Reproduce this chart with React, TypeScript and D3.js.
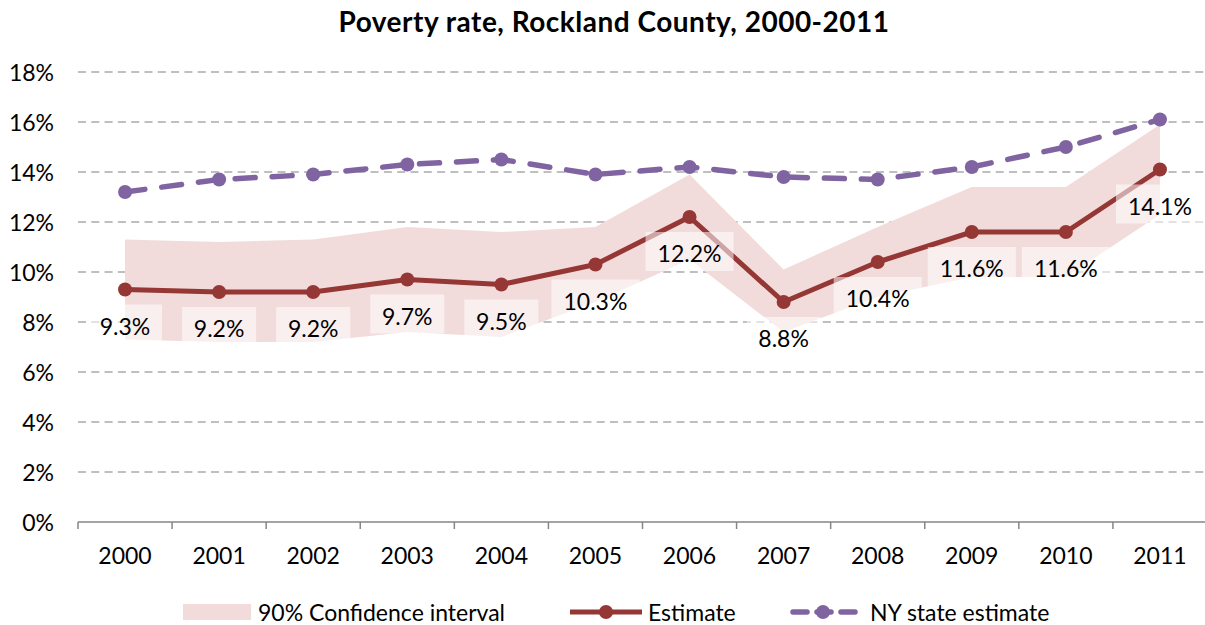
import React from "react";
import * as d3 from "d3";

const years = ["2000","2001","2002","2003","2004","2005","2006","2007","2008","2009","2010","2011"];
const estimate = [9.3, 9.2, 9.2, 9.7, 9.5, 10.3, 12.2, 8.8, 10.4, 11.6, 11.6, 14.1];
const nyState = [13.2, 13.7, 13.9, 14.3, 14.5, 13.9, 14.2, 13.8, 13.7, 14.2, 15.0, 16.1];
const ciUpper = [11.3, 11.2, 11.3, 11.8, 11.6, 11.8, 13.9, 10.1, 11.8, 13.4, 13.4, 15.9];
const ciLower = [7.3, 7.2, 7.2, 7.6, 7.4, 8.8, 10.5, 7.6, 9.0, 9.8, 9.8, 12.3];
const yTicks = [0, 2, 4, 6, 8, 10, 12, 14, 16, 18];

const W = 1205, H = 625;
const FONT = "Lato, 'Open Sans', sans-serif";
const C_EST = "#953735";
const C_NY = "#8064A2";
const C_BAND = "#F2DCDB";
const C_GRID = "#BFBFBF";
const C_AXIS = "#868686";
const FS = 23;

export default function App() {
  const x = d3.scaleBand<string>().domain(years).range([78, 1207]).padding(0);
  const bw = x.bandwidth();
  const cx = (i: number) => (x(years[i]) as number) + bw / 2;
  const y = d3.scaleLinear().domain([0, 18]).range([522, 72]);

  const area = d3.area<number>()
    .x((_, i) => cx(i))
    .y0((_, i) => y(ciLower[i]))
    .y1((_, i) => y(ciUpper[i]));
  const lineEst = d3.line<number>().x((_, i) => cx(i)).y((d) => y(d));
  const lineNy = d3.line<number>().x((_, i) => cx(i)).y((d) => y(d));

  const fmt = (v: number) => v.toFixed(1) + "%";

  return (
    <svg width={W} height={H} style={{ position: "absolute", left: 0, top: 0, background: "#fff" }} fontFamily={FONT}>
      <text x={614} y={32} textAnchor="middle" fontSize={28} fontWeight="bold" letterSpacing={0.5} fill="#000">
        Poverty rate, Rockland County, 2000-2011
      </text>

      {/* gridlines */}
      {yTicks.filter((t) => t > 0).map((t) => (
        <line key={"g" + t} x1={78} x2={1205} y1={y(t)} y2={y(t)} stroke={C_GRID} strokeWidth={1.8} strokeDasharray="8,5.3" />
      ))}

      {/* y labels */}
      {yTicks.map((t) => (
        <text key={"yl" + t} x={54} y={y(t)} textAnchor="end" dominantBaseline="central" fontSize={FS} fill="#000">
          {t + "%"}
        </text>
      ))}

      {/* CI band */}
      <path d={area(estimate) as string} fill={C_BAND} stroke="none" />

      {/* estimate line */}
      <path d={lineEst(estimate) as string} fill="none" stroke={C_EST} strokeWidth={5} strokeLinejoin="round" />
      {estimate.map((v, i) => (
        <circle key={"e" + i} cx={cx(i)} cy={y(v)} r={7} fill={C_EST} />
      ))}

      {/* NY line */}
      <path d={lineNy(nyState) as string} fill="none" stroke={C_NY} strokeWidth={5.5} strokeDasharray="20,17" strokeLinecap="round" />
      {nyState.map((v, i) => (
        <circle key={"n" + i} cx={cx(i)} cy={y(v)} r={7} fill={C_NY} />
      ))}

      {/* data labels */}
      {estimate.map((v, i) => {
        const lx = cx(i);
        const ly = y(v) + 36;
        const s = fmt(v);
        const w = s.length * 14 + 18;
        return (
          <g key={"l" + i}>
            <rect x={lx - w / 2} y={ly - 21} width={w} height={39} fill="#fff" fillOpacity={0.55} />
            <text x={lx} y={ly} textAnchor="middle" dominantBaseline="central" fontSize={FS} fill="#000">
              {s}
            </text>
          </g>
        );
      })}

      {/* x axis */}
      <line x1={78} x2={1205} y1={522} y2={522} stroke={C_AXIS} strokeWidth={1.5} />
      {years.map((yr, i) => (
        <line key={"t" + i} x1={x(yr) as number} x2={x(yr) as number} y1={522} y2={529} stroke={C_AXIS} strokeWidth={1.5} />
      ))}
      {years.map((yr, i) => (
        <text key={"xl" + i} x={cx(i)} y={555} textAnchor="middle" dominantBaseline="central" fontSize={FS} fill="#000">
          {yr}
        </text>
      ))}

      {/* legend */}
      <rect x={183} y={604} width={68} height={16} fill={C_BAND} />
      <text x={258} y={612} dominantBaseline="central" fontSize={FS} fill="#000">90% Confidence interval</text>
      <line x1={570} x2={642} y1={612} y2={612} stroke={C_EST} strokeWidth={5} />
      <circle cx={606} cy={612} r={7} fill={C_EST} />
      <text x={648} y={612} dominantBaseline="central" fontSize={FS} fill="#000">Estimate</text>
      <line x1={793} x2={855} y1={612} y2={612} stroke={C_NY} strokeWidth={5.5} strokeDasharray="14,10" strokeLinecap="round" />
      <circle cx={823} cy={612} r={7} fill={C_NY} />
      <text x={870} y={612} dominantBaseline="central" fontSize={FS} fill="#000">NY state estimate</text>
    </svg>
  );
}
